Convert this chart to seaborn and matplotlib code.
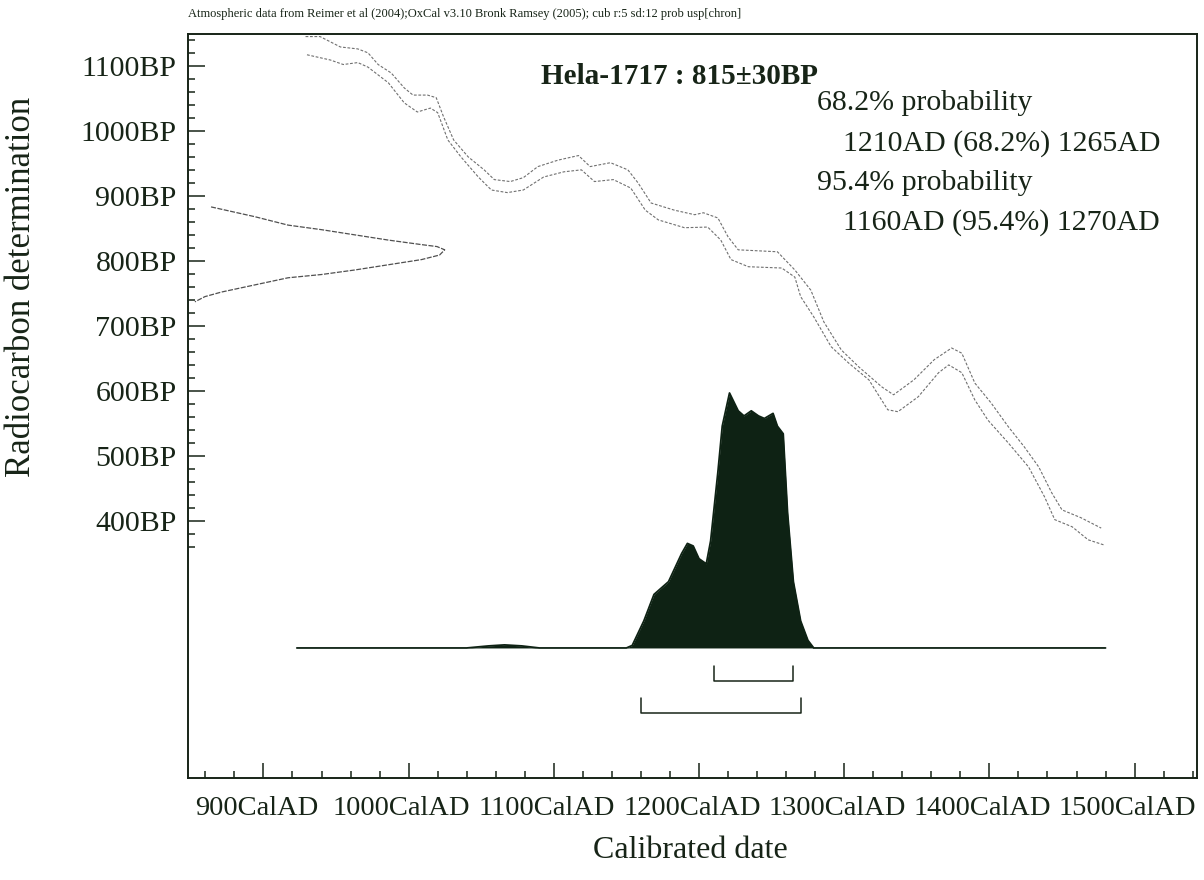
import matplotlib
matplotlib.use("Agg")
import matplotlib.pyplot as plt
import matplotlib.transforms as mtransforms
import seaborn as sns
from matplotlib.ticker import FixedLocator

# calibration curve, upper and lower edge of the band (cal AD, BP)
cal_upper_year = [929, 939, 953, 965, 972, 979, 988, 997, 1003, 1013, 1019, 1024, 1031, 1041,
                  1052, 1059, 1070, 1079, 1089, 1103, 1117, 1125, 1139, 1151, 1158, 1167, 1183,
                  1197, 1203, 1213, 1220, 1227, 1254, 1266, 1277, 1286, 1298, 1310, 1326, 1334,
                  1348, 1362, 1374, 1381, 1390, 1401, 1413, 1424, 1434, 1443, 1450, 1463, 1477]
cal_upper_bp = [1145, 1145, 1129, 1126, 1120, 1102, 1089, 1066, 1055, 1055, 1051, 1022, 986, 960,
                940, 925, 922, 928, 945, 955, 962, 945, 951, 940, 920, 889, 878,
                871, 874, 866, 837, 817, 814, 786, 755, 706, 663, 637, 606, 594,
                617, 648, 666, 658, 612, 582, 545, 514, 483, 443, 417, 405, 389]
cal_lower_year = [930, 946, 955, 965, 972, 986, 997, 1006, 1015, 1020, 1027, 1036, 1048, 1057,
                  1068, 1079, 1093, 1107, 1119, 1128, 1141, 1153, 1163, 1172, 1190, 1206, 1215,
                  1222, 1234, 1257, 1266, 1270, 1279, 1291, 1303, 1317, 1330, 1337, 1351, 1365,
                  1372, 1381, 1390, 1399, 1413, 1427, 1438, 1445, 1457, 1468, 1479]
cal_lower_bp = [1117, 1109, 1102, 1105, 1098, 1074, 1043, 1029, 1035, 1028, 986, 960, 929, 909,
                905, 909, 929, 937, 940, 922, 925, 912, 878, 863, 851, 852, 832,
                802, 791, 789, 775, 745, 714, 668, 643, 617, 571, 568, 591, 628,
                640, 628, 586, 555, 520, 483, 437, 402, 391, 371, 363]

# radiocarbon measurement 815+-30 BP (relative density)
rc_bp = [883, 868, 855, 848, 840, 832, 825, 822, 817, 809, 802, 794, 786, 779, 774, 763, 752, 745, 737]
rc_density = [0.09, 0.26, 0.39, 0.52, 0.65, 0.78, 0.91, 0.97, 1.0, 0.98, 0.91, 0.78, 0.65, 0.52,
              0.39, 0.26, 0.13, 0.066, 0.027]

# calibrated probability distribution (cal AD, relative)
prob_year = [923, 1040, 1055, 1066, 1078, 1090, 1150, 1154, 1162, 1169, 1179, 1188, 1192, 1196,
             1200, 1205, 1208, 1213, 1216, 1221, 1227, 1231, 1236, 1241, 1245, 1251, 1254, 1258,
             1261, 1265, 1270, 1275, 1279, 1480]
prob_density = [0, 0, 0.008, 0.012, 0.008, 0, 0, 0.01, 0.106, 0.21, 0.26, 0.37, 0.41, 0.40,
                0.35, 0.33, 0.42, 0.69, 0.87, 1.0, 0.93, 0.91, 0.93, 0.91, 0.90, 0.92, 0.87, 0.84,
                0.53, 0.26, 0.106, 0.03, 0, 0]

range_68 = [1210, 1265]
range_95 = [1160, 1270]

bp_ticks = [400, 500, 600, 700, 800, 900, 1000, 1100]
bp_labels = ["400BP", "500BP", "600BP", "700BP", "800BP", "900BP", "1000BP", "1100BP"]
cal_ticks = [900, 1000, 1100, 1200, 1300, 1400, 1500]
cal_labels = ["900CalAD", "1000CalAD", "1100CalAD", "1200CalAD", "1300CalAD", "1400CalAD", "1500CalAD"]

sns.set_theme(style="white")
plt.rcParams['font.family'] = ['Liberation Serif', 'DejaVu Serif']
ink = '#172417'
fill = '#0e2214'

fig = plt.figure(figsize=(12.04, 8.8), dpi=100)
ax = fig.add_axes([0.1561, 0.1159, 0.8381, 0.8455])
ax.set_xlim(848, 1543)
ax.set_ylim(4.6, 1149)

# calibration curve band edges
for yrs, bps in [(cal_upper_year, cal_upper_bp), (cal_lower_year, cal_lower_bp)]:
    sns.lineplot(x=yrs, y=bps, ax=ax, sort=False, estimator=None, color='#707070',
                 lw=0.8, linestyle=(0, (2.5, 1.5)))

# axis styling
for s in ax.spines.values():
    s.set_visible(True)
    s.set_color(ink)
    s.set_linewidth(1.4)
ax.set_xticks(cal_ticks)
ax.set_xticklabels(cal_labels)
ax.xaxis.set_minor_locator(FixedLocator(list(range(860, 1541, 20))))
ax.set_yticks(bp_ticks)
ax.set_yticklabels(bp_labels)
ax.yaxis.set_minor_locator(FixedLocator(list(range(360, 1141, 20))))
ax.tick_params(axis='x', which='major', direction='in', length=11, width=1.1, color=ink,
               labelsize=20.5, labelcolor=ink, pad=13)
ax.tick_params(axis='x', which='minor', direction='in', length=5, width=1.1, color=ink)
ax.tick_params(axis='y', which='major', direction='in', length=12, width=1.1, color=ink,
               labelsize=21.5, labelcolor=ink, pad=8)
ax.tick_params(axis='y', which='minor', direction='in', length=5, width=1.1, color=ink)
ax.tick_params(bottom=True, left=True, which='both')
ax.set_xlabel("")
ax.set_ylabel("")

# nudge the date labels a little to the left so the last one stays inside
shift = mtransforms.ScaledTranslation(-7 / 100, 0, fig.dpi_scale_trans)
for lab in ax.get_xticklabels():
    lab.set_transform(lab.get_transform() + shift)

# radiocarbon measurement drawn from the left spine
ax_rc = ax.twiny()
ax_rc.set_xlim(0, 3.93)
sns.lineplot(x=rc_density, y=rc_bp, ax=ax_rc, sort=False, estimator=None, color='#505050',
             lw=0.9, linestyle=(0, (4, 1.2)))
ax_rc.set_xticks([])
ax_rc.set_xlabel("")
for s in ax_rc.spines.values():
    s.set_visible(False)

# calibrated distribution and ranges
ax_p = ax.twinx()
ax_p.set_ylim(-0.51, 2.408)
ax_p.fill_between(prob_year, 0, prob_density, color=fill, lw=0)
ax_p.plot(prob_year, prob_density, color=fill, lw=1.3)
for (lo, hi), lvl in [(range_68, -0.129), (range_95, -0.255)]:
    ax_p.plot([lo, lo, hi, hi], [lvl + 0.058, lvl, lvl, lvl + 0.058], color=ink, lw=1.1)
ax_p.set_yticks([])
for s in ax_p.spines.values():
    s.set_visible(False)

# texts
ax.text(0.487, 0.943, "Hela-1717 : 815\u00b130BP", transform=ax.transAxes, ha='center',
        va='center', fontsize=21, fontweight='bold', color=ink)
lines = [
    (0.623, "68.2% probability"),
    (0.649, f"{range_68[0]}AD (68.2%) {range_68[1]}AD"),
    (0.623, "95.4% probability"),
    (0.649, f"{range_95[0]}AD (95.4%) {range_95[1]}AD"),
]
for (xx, txt), yy in zip(lines, [0.907, 0.853, 0.800, 0.746]):
    ax.text(xx, yy, txt, transform=ax.transAxes, ha='left', va='center', fontsize=21.5, color=ink)

fig.text(188 / 1204, 1 - 14 / 880,
         "Atmospheric data from Reimer et al (2004);OxCal v3.10 Bronk Ramsey (2005); cub r:5 sd:12 prob usp[chron]",
         ha='left', va='center', fontsize=9, color=ink)
fig.text(22 / 1204, 1 - 287 / 880, "Radiocarbon determination", rotation=90, ha='center',
         va='center', fontsize=25, color=ink)
fig.text(690 / 1204, 1 - 850 / 880, "Calibrated date", ha='center', va='center',
         fontsize=23, color=ink)

fig.savefig("out.png", dpi=100, facecolor='white')
